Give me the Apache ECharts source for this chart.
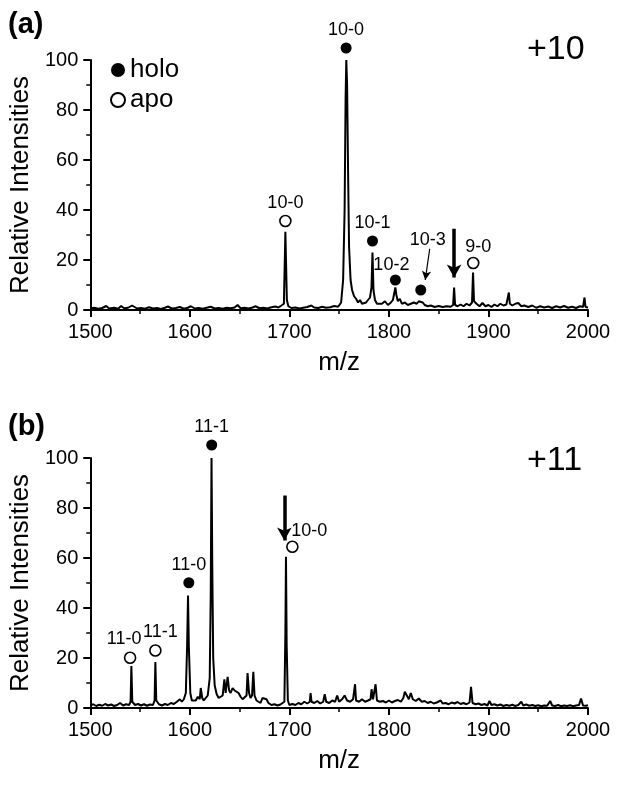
<!DOCTYPE html>
<html>
<head>
<meta charset="utf-8">
<title>holo / apo spectra</title>
<script src="https://cdn.jsdelivr.net/npm/echarts@6/dist/echarts.min.js"></script>
<style>
  body { margin: 0; background: #fff; }
  #chart { width: 624px; height: 786px; }
</style>
</head>
<body>
<div id="chart"></div>
<script>
// ---- panel (a), charge +10 : spectrum ----
const mzA = [1500,1504,1508,1512,1516,1519,1524,1528,1531,1534,1538,1542,1544,1547,1551,1555,1559,1563,1567,1571,1575,1578,1582,1586,1590,1594,1598,1601,1605,1609,1613,1617,1621,1625,1629,1633,1637,1641,1645,1648,1651,1655,1659,1663,1666,1670,1674,1678,1682,1686,1689,1692,1694.5,1696,1697.5,1699,1702,1706,1710,1714,1718,1722,1725,1729,1733,1737,1741,1745,1749,1752,1754,1755.5,1756.5,1757.2,1758,1759,1760,1761.5,1763,1765,1767,1769,1771,1773,1775,1777,1779,1781,1782.5,1783.5,1784.5,1786,1788,1790,1793,1796,1799,1802,1804,1805.5,1806.5,1807.5,1809,1811,1813,1816,1819,1822,1825,1828,1830,1832,1834,1836,1839,1842,1846,1850,1854,1858,1862,1864.5,1865.5,1866.5,1869,1872,1875,1878,1881,1883.5,1884.5,1885.5,1888,1891,1894,1897,1900,1903,1906,1909,1912,1915,1918,1919.5,1920.5,1921.5,1924,1927,1930,1933,1936,1940,1944,1948,1952,1956,1960,1964,1968,1972,1976,1980,1984,1988,1992,1995,1996.5,1997.5,2000];
const intA = [0.6,0.9,0.5,0.8,1.6,0.6,0.9,0.5,1.6,0.7,0.9,1.8,1.2,0.6,0.8,0.5,1.1,0.6,0.8,0.4,0.9,1.4,0.6,0.8,1.2,0.5,0.9,1.5,0.6,0.8,0.5,0.9,1.3,0.6,0.8,0.5,0.9,0.7,1.0,2.0,0.7,0.9,0.6,1.0,1.5,0.7,0.9,0.6,1.1,1.4,1.0,1.8,2.5,31.3,4,1.5,0.8,1.0,0.6,0.9,1.2,1.8,1.0,0.8,1.3,0.9,1.1,1.6,1.3,3.0,12,40,85,100,90,55,25,12,8,5.5,4.5,3,4,2.5,2,3,3.5,5,9,23,8,4,2.5,1.8,2.5,3.5,2,3,4,7,9,6,3.5,4.5,2.5,3,2,2.5,3,2.5,3.5,4.2,3,2,1.5,1.8,1.2,1.6,1.2,1.5,1.3,2,9,2,1.5,2.2,1.5,2.5,1.8,3,15,3.5,2.5,1.5,2.8,1.5,2,1.2,2.2,1.5,2.5,1.8,2.2,2.5,7,2.5,1.8,2.5,2.8,1.5,1.8,1.2,1.8,0.9,1.5,1.0,1.4,0.8,1.5,1.0,1.6,0.9,1.3,0.8,1.5,1.2,5,1.2,1.0];

const holoMzA = [1757, 1783.5, 1806.5, 1832];
const holoYA = [104.8, 27.6, 12, 8];
const holoLabA = ['10-0', '10-1', '10-2', '10-3'];
const apoMzA = [1696, 1884.7];
const apoYA = [35.6, 18.8];
const apoLabA = ['10-0', '9-0'];
// arrows: [m/z start, y start, m/z end, y end]
const arrowsA = [[1865.5, 32.5, 1865.5, 13], [1841, 24.5, 1836.5, 12]];

// ---- panel (b), charge +11 ----
const mzB = [1500,1503,1506,1509,1512,1515,1518,1521,1524,1527,1530,1533,1536,1539,1540.5,1541.3,1542.2,1545,1548,1551,1554,1557,1560,1563,1564.6,1565.4,1566.3,1569,1572,1575,1578,1581,1584,1587,1590,1592,1594,1596,1597.3,1598.2,1599,1600.5,1602,1604,1606,1608,1610,1611,1612.5,1614,1616,1618,1620,1621,1621.8,1622.6,1623.5,1625,1627,1629,1631,1633,1634.7,1636,1638,1639.5,1641,1643,1645,1647,1649,1651,1653,1655,1657,1658,1659.5,1661,1662.5,1663.8,1665,1667,1669,1671,1673,1675,1677,1679,1682,1685,1688,1691,1693,1695,1696,1696.6,1697.3,1698.5,1700,1703,1706,1709,1712,1715,1718,1720.5,1721.3,1722.3,1725,1728,1731,1734,1735.5,1737,1740,1743,1746,1748,1750,1753,1755.5,1758,1761,1764,1765,1766,1767,1770,1773,1776,1779,1781.5,1782.6,1784,1785.5,1786.6,1788,1791,1794,1797,1800,1803,1806,1809,1812,1814.5,1816,1818,1820,1822,1824,1827,1830,1833,1836,1839,1842,1845,1848,1850,1852,1854,1857,1860,1863,1866,1869,1872,1875,1878,1881,1882.5,1884,1887,1890,1893,1896,1899,1901,1903,1906,1909,1912,1915,1918,1921,1924,1927,1930,1933,1935,1938,1941,1944,1947,1950,1953,1956,1959,1962,1964,1967,1970,1973,1976,1979,1982,1985,1988,1991,1993,1995,1998,2000];
const intB = [1.0,1.5,0.8,1.3,0.9,1.6,1.0,1.4,0.8,1.2,2.0,1.0,1.5,1.2,2.5,16.8,2.5,1.2,1.6,1.0,1.5,0.9,1.4,1.2,3,18.4,3,1.5,1.0,1.6,1.2,2.0,1.6,2.5,3.5,2.5,3.5,6,25,45,25,6,3,2.2,3,4.5,3.5,8,4,3,4,5,12,45,100,55,20,9,5.5,4,3.5,5,11.5,6,12.5,7,6,8,7,7.5,6,4.5,3.5,3,5,14,6,4,5,14.5,5,3,2.5,2,4,4.5,3.5,2,1.2,1.5,1.0,1.4,1.0,2.5,30,60.5,25,3,1.2,1.6,1.2,2.0,1.5,2.5,1.8,2.5,6,2.5,2.0,2.8,1.8,2.5,5.5,2.5,2.0,3.0,2.5,5,2.5,3.5,5,3,2.5,3.5,3,9.5,3,2.5,3.5,2.5,3,3.5,7.5,3.5,4,9.5,3,2.5,2.8,2.2,3,2.2,2.8,3.2,2.5,4,6.5,6,3.5,6,3.5,2.8,3.8,2.5,2.8,2.0,2.5,1.8,2.2,1.6,3,1.8,2.0,1.5,2.2,1.8,2.4,1.6,2.0,1.5,2.2,8.5,2.0,1.5,1.8,1.2,1.6,1.0,2.8,1.2,1.5,1.0,1.4,0.8,1.2,0.9,1.3,0.8,1.2,2.5,1.0,1.4,0.9,1.2,0.8,1.1,0.7,1.0,0.9,2.8,1.0,0.8,1.2,0.7,1.0,0.8,1.1,0.7,1.0,1.2,3.8,1.0,0.9,1.1];

const holoMzB = [1599, 1622];
const holoYB = [50.1, 105.2];
const holoLabB = ['11-0', '11-1'];
const apoMzB = [1540, 1565.4, 1703];
const apoYB = [20.1, 23, 64.5];
const apoLabB = ['11-0', '11-1', '10-0'];
const arrowsB = [[1695, 85, 1695, 67]];

// label shifts (pixels) for a few crowded marker labels
const shiftHoloA = { 3: [7, -32], 2: [-4, 3] };
const shiftApoA = { 1: [5, 2] };
const shiftApoB = { 0: [-6, 0], 1: [5, 0], 2: [17, 3] };

const FONT = 'Liberation Sans';

function pairs(xs, ys) {
  return xs.map((x, i) => [x, ys[i]]);
}
function markers(xs, ys, labs, shift) {
  return xs.map((x, i) => {
    const d = { value: [x, ys[i]], label: { formatter: labs[i] } };
    if (shift && shift[i]) d.label.offset = shift[i];
    return d;
  });
}
function arrowLines(list) {
  return list.map((a, i) => {
    const thin = a[0] !== a[2];
    return [
      { coord: [a[0], a[1]], symbol: 'none', lineStyle: { width: thin ? 1.2 : 3.5, color: '#000', type: 'solid' } },
      { coord: [a[2], a[3]], symbol: 'arrow', symbolSize: thin ? [7, 9] : [11, 13] }
    ];
  });
}

function xAx(idx) {
  return {
    gridIndex: idx, type: 'value', min: 1500, max: 2000, interval: 100,
    name: 'm/z', nameLocation: 'middle', nameGap: 40,
    nameTextStyle: { fontFamily: FONT, fontSize: 26, color: '#000' },
    axisLine: { show: true, onZero: false, lineStyle: { color: '#000', width: 2 } },
    axisTick: { show: true, inside: false, length: 7, lineStyle: { color: '#000', width: 2 } },
    minorTick: { show: true, splitNumber: 2, length: 4, lineStyle: { color: '#000', width: 1.5 } },
    axisLabel: { fontFamily: FONT, fontSize: 20, color: '#000', margin: 12, formatter: v => String(v) },
    splitLine: { show: false }, minorSplitLine: { show: false }
  };
}
function yAx(idx) {
  return {
    gridIndex: idx, type: 'value', min: 0, max: 100, interval: 20,
    name: 'Relative Intensities', nameLocation: 'middle', nameGap: 45,
    nameTextStyle: { fontFamily: FONT, fontSize: 26, color: '#000' },
    axisLine: { show: true, lineStyle: { color: '#000', width: 2 } },
    axisTick: { show: true, inside: false, length: 7, lineStyle: { color: '#000', width: 2 } },
    minorTick: { show: true, splitNumber: 2, length: 4, lineStyle: { color: '#000', width: 1.5 } },
    axisLabel: { fontFamily: FONT, fontSize: 20, color: '#000', margin: 12, formatter: v => String(v) },
    splitLine: { show: false }, minorSplitLine: { show: false }
  };
}

const markerLabel = { show: true, position: 'top', distance: 3, fontFamily: FONT, fontSize: 18, color: '#000', opacity: 1 };
const holoStyle = { color: '#000', opacity: 1 };
const apoStyle = { color: '#fff', borderColor: '#000', borderWidth: 1.6, opacity: 1 };

function spectrum(idx, xs, ys, arrows) {
  return {
    type: 'line', xAxisIndex: idx, yAxisIndex: idx,
    data: pairs(xs, ys), showSymbol: false, symbol: 'none',
    lineStyle: { color: '#000', width: 2 }, z: 2, silent: true,
    markLine: { silent: true, symbol: ['none', 'arrow'], label: { show: false }, data: arrowLines(arrows) }
  };
}
function dots(idx, name, data, style) {
  return {
    type: 'scatter', name: name, xAxisIndex: idx, yAxisIndex: idx,
    symbol: 'circle', symbolSize: 11, clip: false, z: 5,
    itemStyle: style, label: markerLabel, data: data
  };
}

const chart = echarts.init(document.getElementById('chart'), null, { renderer: 'canvas' });
chart.setOption({
  animation: false,
  backgroundColor: '#fff',
  grid: [
    { left: 80, top: 60, width: 508, height: 250 },
    { left: 80, top: 458, width: 508, height: 250 }
  ],
  xAxis: [xAx(0), xAx(1)],
  yAxis: [yAx(0), yAx(1)],
  legend: {
    data: ['holo', 'apo'], orient: 'vertical', left: 105, top: 52,
    itemWidth: 14, itemHeight: 14, itemGap: 4, icon: 'circle',
    textStyle: { fontFamily: FONT, fontSize: 26, color: '#000' },
    selectedMode: false
  },
  graphic: [
    { type: 'text', left: 8, top: 10, style: { text: '(a)', font: 'bold 29px "Liberation Sans"', fill: '#000' } },
    { type: 'text', left: 8, top: 412, style: { text: '(b)', font: 'bold 29px "Liberation Sans"', fill: '#000' } },
    { type: 'text', left: 527, top: 33, style: { text: '+10', font: '34px "Liberation Sans"', fill: '#000' } },
    { type: 'text', left: 527, top: 444, style: { text: '+11', font: '34px "Liberation Sans"', fill: '#000' } }
  ],
  series: [
    spectrum(0, mzA, intA, arrowsA),
    dots(0, 'holo', markers(holoMzA, holoYA, holoLabA, shiftHoloA), holoStyle),
    dots(0, 'apo', markers(apoMzA, apoYA, apoLabA, shiftApoA), apoStyle),
    spectrum(1, mzB, intB, arrowsB),
    dots(1, 'holo', markers(holoMzB, holoYB, holoLabB), holoStyle),
    dots(1, 'apo', markers(apoMzB, apoYB, apoLabB, shiftApoB), apoStyle)
  ]
});
</script>
</body>
</html>
